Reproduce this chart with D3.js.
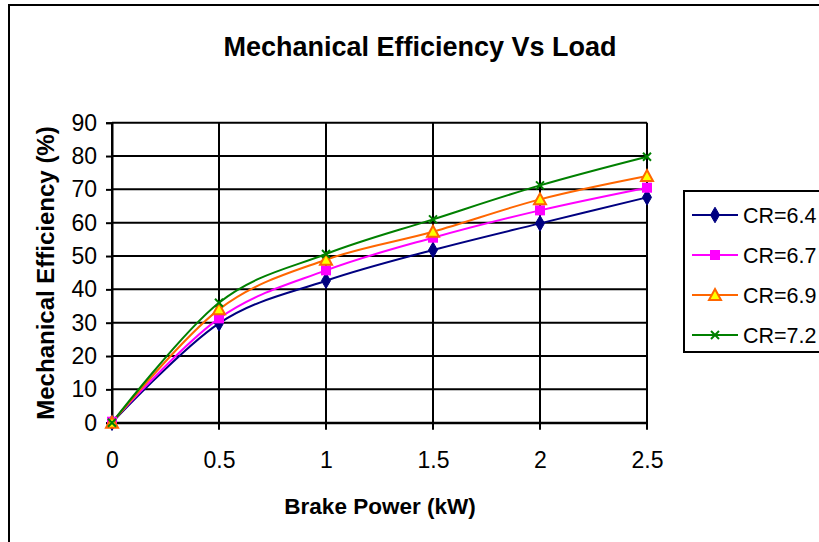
<!DOCTYPE html>
<html>
<head>
<meta charset="utf-8">
<script src="https://cdn.jsdelivr.net/npm/d3@7"></script>
<style>
  body { margin: 0; background: #fff; }
  svg { display: block; font-family: "Liberation Sans", Arial, sans-serif; }
</style>
</head>
<body>
<div id="chart"></div>
<script>
const loads = [0, 0.5, 1, 1.5, 2, 2.5];
const cr64 = [0, 29.8, 42.6, 51.8, 59.8, 67.6];
const cr67 = [0.3, 31.3, 45.7, 55.5, 63.7, 70.5];
const cr69 = [0, 34, 48.9, 57.3, 67, 74];
const cr72 = [0, 36, 50.6, 61, 71.2, 79.8];
const xTicks = [0, 0.5, 1, 1.5, 2, 2.5];
const yTicks = [0, 10, 20, 30, 40, 50, 60, 70, 80, 90];

const series = [
  { name: 'CR=6.4', values: cr64, colour: '#000080', marker: 'diamond' },
  { name: 'CR=6.7', values: cr67, colour: '#FF00FF', marker: 'square' },
  { name: 'CR=6.9', values: cr69, colour: '#FF6600', marker: 'triangle' },
  { name: 'CR=7.2', values: cr72, colour: '#008000', marker: 'cross' },
];

const width = 819;
const height = 542;
const plot = { left: 112, right: 647, top: 122.7, bottom: 422.7 };
const font = '"Liberation Sans", Arial, sans-serif';

const svg = d3.select('#chart').append('svg')
    .attr('width', width)
    .attr('height', height);

// outer chart frame (runs off the right/bottom edge)
svg.append('rect')
    .attr('x', 9).attr('y', 5)
    .attr('width', width + 20).attr('height', height + 20)
    .attr('fill', '#fff')
    .attr('stroke', '#000')
    .attr('stroke-width', 2);

const x = d3.scaleLinear().domain([0, 2.5]).range([plot.left, plot.right]);
const y = d3.scaleLinear().domain([0, 90]).range([plot.bottom, plot.top]);

// grid
svg.append('g')
  .selectAll('line')
  .data(yTicks)
  .enter().append('line')
    .attr('x1', plot.left).attr('x2', plot.right)
    .attr('y1', d => y(d)).attr('y2', d => y(d))
    .attr('stroke', '#000').attr('stroke-width', 2);

svg.append('g')
  .selectAll('line')
  .data(xTicks)
  .enter().append('line')
    .attr('x1', d => x(d)).attr('x2', d => x(d))
    .attr('y1', plot.top).attr('y2', plot.bottom + 7)
    .attr('stroke', '#000').attr('stroke-width', 2);

// axes
const yAxis = svg.append('g')
    .attr('transform', `translate(${plot.left},0)`)
    .call(d3.axisLeft(y).tickValues(yTicks).tickSize(6).tickPadding(9));
yAxis.select('.domain').attr('stroke-width', 2);
yAxis.selectAll('.tick line').attr('stroke-width', 2);
yAxis.selectAll('text').attr('font-size', 23).attr('font-family', font).attr('fill', '#000');

const xAxis = svg.append('g')
    .attr('transform', `translate(0,${plot.bottom})`)
    .call(d3.axisBottom(x).tickValues(xTicks).tickSize(0).tickPadding(29).tickFormat(d3.format('~g')));
xAxis.select('.domain').attr('stroke-width', 2);
xAxis.selectAll('text').attr('font-size', 23).attr('font-family', font).attr('fill', '#000');

// titles
svg.append('text')
    .attr('x', 420).attr('y', 56)
    .attr('text-anchor', 'middle')
    .attr('font-size', 27).attr('font-weight', 'bold')
    .text('Mechanical Efficiency Vs Load');

svg.append('text')
    .attr('x', 380).attr('y', 514)
    .attr('text-anchor', 'middle')
    .attr('font-size', 22.5).attr('font-weight', 'bold')
    .text('Brake Power (kW)');

svg.append('text')
    .attr('transform', 'translate(54,273) rotate(-90)')
    .attr('text-anchor', 'middle')
    .attr('font-size', 24).attr('font-weight', 'bold')
    .text('Mechanical Efficiency (%)');

const line = d3.line()
    .x((d, i) => x(loads[i]))
    .y(d => y(d))
    .curve(d3.curveCardinal.tension(0));

function drawMarker(g, type, colour) {
  if (type === 'diamond') {
    g.append('path').attr('d', d3.symbol(d3.symbolDiamond, 70)())
        .attr('fill', colour).attr('stroke', colour);
  } else if (type === 'square') {
    g.append('rect').attr('x', -5).attr('y', -5).attr('width', 10).attr('height', 10)
        .attr('fill', colour);
  } else if (type === 'triangle') {
    g.append('path').attr('d', 'M0,-6L6,5L-6,5Z')
        .attr('fill', '#FFFF00').attr('stroke', colour).attr('stroke-width', 2);
  } else {
    g.append('path').attr('d', 'M-4,-4L4,4M-4,4L4,-4')
        .attr('stroke', colour).attr('stroke-width', 2);
  }
}

series.forEach(s => {
  svg.append('path')
      .datum(s.values)
      .attr('d', line)
      .attr('fill', 'none')
      .attr('stroke', s.colour)
      .attr('stroke-width', 2);
});

series.forEach(s => {
  s.values.forEach((v, i) => {
    const g = svg.append('g').attr('transform', `translate(${x(loads[i])},${y(v)})`);
    drawMarker(g, s.marker, s.colour);
  });
});

// legend
const legend = svg.append('g');
legend.append('rect')
    .attr('x', 684).attr('y', 191)
    .attr('width', 160).attr('height', 161)
    .attr('fill', '#fff')
    .attr('stroke', '#000')
    .attr('stroke-width', 2);

series.forEach((s, i) => {
  const ly = 215 + i * 40;
  const g = legend.append('g');
  g.append('line')
      .attr('x1', 692).attr('x2', 738)
      .attr('y1', ly).attr('y2', ly)
      .attr('stroke', s.colour).attr('stroke-width', 2);
  drawMarker(g.append('g').attr('transform', `translate(715,${ly})`), s.marker, s.colour);
  g.append('text')
      .attr('x', 743).attr('y', ly + 8)
      .attr('font-size', 21.5)
      .text(s.name);
});
</script>
</body>
</html>
